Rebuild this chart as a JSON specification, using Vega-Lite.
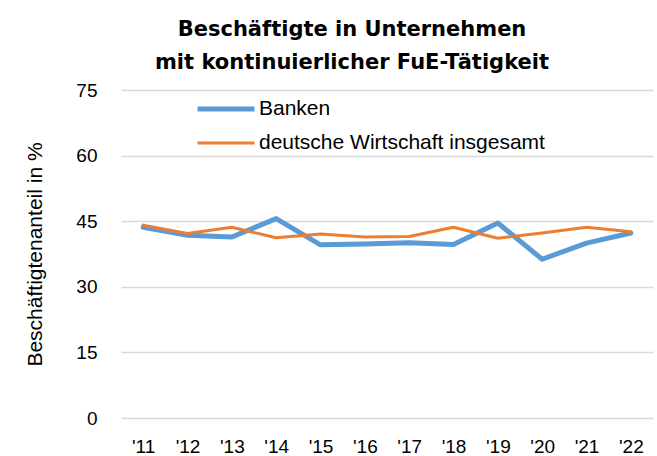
{
  "$schema": "https://vega.github.io/schema/vega-lite/v6.json",
  "width": 532,
  "height": 328,
  "autosize": {"type": "none"},
  "padding": {"left": 121, "top": 90, "right": 4, "bottom": 38},
  "background": "white",
  "view": {"stroke": null},
  "title": {
    "text": ["Beschäftigte in Unternehmen", "mit kontinuierlicher FuE-Tätigkeit"],
    "font": "DejaVu Sans",
    "fontSize": 21,
    "fontWeight": "bold",
    "color": "#000000",
    "lineHeight": 33,
    "anchor": "middle",
    "dx": -35,
    "offset": 8
  },
  "data": {
    "values": [
      {"year": "'11", "series": "Banken", "value": 43.6},
      {"year": "'12", "series": "Banken", "value": 41.8},
      {"year": "'13", "series": "Banken", "value": 41.4},
      {"year": "'14", "series": "Banken", "value": 45.6},
      {"year": "'15", "series": "Banken", "value": 39.6},
      {"year": "'16", "series": "Banken", "value": 39.8},
      {"year": "'17", "series": "Banken", "value": 40.1},
      {"year": "'18", "series": "Banken", "value": 39.7},
      {"year": "'19", "series": "Banken", "value": 44.6},
      {"year": "'20", "series": "Banken", "value": 36.3},
      {"year": "'21", "series": "Banken", "value": 40.0},
      {"year": "'22", "series": "Banken", "value": 42.3},
      {"year": "'11", "series": "deutsche Wirtschaft insgesamt", "value": 44.1},
      {"year": "'12", "series": "deutsche Wirtschaft insgesamt", "value": 42.2},
      {"year": "'13", "series": "deutsche Wirtschaft insgesamt", "value": 43.6},
      {"year": "'14", "series": "deutsche Wirtschaft insgesamt", "value": 41.2},
      {"year": "'15", "series": "deutsche Wirtschaft insgesamt", "value": 42.1},
      {"year": "'16", "series": "deutsche Wirtschaft insgesamt", "value": 41.4},
      {"year": "'17", "series": "deutsche Wirtschaft insgesamt", "value": 41.5},
      {"year": "'18", "series": "deutsche Wirtschaft insgesamt", "value": 43.6},
      {"year": "'19", "series": "deutsche Wirtschaft insgesamt", "value": 41.1},
      {"year": "'20", "series": "deutsche Wirtschaft insgesamt", "value": 42.3},
      {"year": "'21", "series": "deutsche Wirtschaft insgesamt", "value": 43.6},
      {"year": "'22", "series": "deutsche Wirtschaft insgesamt", "value": 42.6}
    ]
  },
  "mark": {"type": "line", "strokeJoin": "round", "strokeCap": "round"},
  "encoding": {
    "x": {
      "field": "year",
      "type": "ordinal",
      "sort": null,
      "scale": {"type": "point", "padding": 0.5},
      "axis": {
        "title": null,
        "labelAngle": 0,
        "labelFont": "Liberation Sans",
        "labelFontSize": 19,
        "labelColor": "#000000",
        "labelPadding": 19,
        "ticks": false,
        "domain": false,
        "grid": false
      }
    },
    "y": {
      "field": "value",
      "type": "quantitative",
      "scale": {"domain": [0, 75], "nice": false},
      "axis": {
        "title": "Beschäftigtenanteil in %",
        "titleFont": "Liberation Sans",
        "titleFontSize": 21,
        "titleFontWeight": "normal",
        "titleColor": "#000000",
        "titlePadding": 30,
        "values": [0, 15, 30, 45, 60, 75],
        "labelFont": "Liberation Sans",
        "labelFontSize": 19,
        "labelColor": "#000000",
        "labelPadding": 24,
        "ticks": false,
        "domain": false,
        "grid": true,
        "gridColor": "#d9d9d9",
        "gridWidth": 1.5
      }
    },
    "color": {
      "field": "series",
      "type": "nominal",
      "scale": {"domain": ["Banken", "deutsche Wirtschaft insgesamt"], "range": ["#5b9bd5", "#ed7d31"]},
      "legend": {
        "title": null,
        "orient": "none",
        "legendX": 74,
        "legendY": 2,
        "symbolType": "stroke",
        "symbolSize": 3249,
        "clipHeight": 34,
        "labelFont": "Liberation Sans",
        "labelFontSize": 21,
        "labelColor": "#000000",
        "labelOffset": 2,
        "labelLimit": 400,
        "rowPadding": 0
      }
    },
    "strokeWidth": {
      "field": "series",
      "type": "nominal",
      "scale": {"domain": ["Banken", "deutsche Wirtschaft insgesamt"], "range": [5, 3]},
      "legend": {
        "title": null,
        "orient": "none",
        "legendX": 74,
        "legendY": 2,
        "symbolType": "stroke",
        "symbolSize": 3249,
        "clipHeight": 34,
        "labelFont": "Liberation Sans",
        "labelFontSize": 21,
        "labelColor": "#000000",
        "labelOffset": 2,
        "labelLimit": 400,
        "rowPadding": 0
      }
    }
  }
}
